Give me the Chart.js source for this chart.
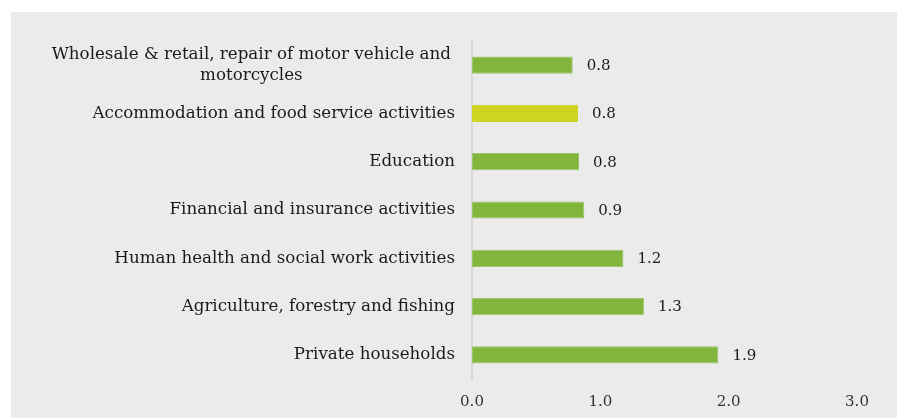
<!DOCTYPE html>
<html>
<head>
<meta charset="utf-8">
<script src="https://cdn.jsdelivr.net/npm/chart.js@4/dist/chart.umd.min.js"></script>
<style>
  html, body { margin: 0; padding: 0; background: #fff; }
  #panel { position: absolute; left: 11px; top: 12px; width: 886px; height: 406px; background: #ebebeb; }
  #chart { display: block; }
</style>
</head>
<body>
<div id="panel"><canvas id="chart" width="886" height="406"></canvas></div>
<script>
// ── Data ──────────────────────────────────────────────────────────────────────
const sectors = [
  ['Wholesale & retail, repair of motor vehicle and', 'motorcycles'],
  'Accommodation and food service activities',
  'Education',
  'Financial and insurance activities',
  'Human health and social work activities',
  'Agriculture, forestry and fishing',
  'Private households',
];
const values = [0.785, 0.826, 0.834, 0.875, 1.18, 1.34, 1.92];
const highlighted = [false, true, false, false, false, false, false];
const xTicks = [0, 1, 2, 3];

const GREEN = '#82b53c';
const GREEN_EDGE = '#9cc66a';
const LIME = '#cdd421';
const SERIF = '"DejaVu Serif", Georgia, serif';

// category labels on the left, drawn by hand so the wrapped one can be centred
const categoryLabels = {
  id: 'categoryLabels',
  afterDraw(chart) {
    const { ctx, scales: { x, y } } = chart;
    const right = x.left - 17;
    const lh = 21;
    ctx.save();
    ctx.font = `16.7px ${SERIF}`;
    ctx.fillStyle = '#1a1a1a';
    ctx.textBaseline = 'middle';
    sectors.forEach((label, i) => {
      const cy = y.getPixelForValue(i);
      const lines = Array.isArray(label) ? label : [label];
      const widest = Math.max(...lines.map(l => ctx.measureText(l).width));
      const top = cy - (lines.length - 1) * lh / 2;
      lines.forEach((line, j) => {
        if (lines.length > 1) {
          ctx.textAlign = 'center';
          ctx.fillText(line, right - 4 - widest / 2, top + j * lh);
        } else {
          ctx.textAlign = 'right';
          ctx.fillText(line, right, top + j * lh);
        }
      });
    });
    ctx.restore();
  }
};

// value labels just past the end of each bar
const valueLabels = {
  id: 'valueLabels',
  afterDatasetsDraw(chart) {
    const { ctx } = chart;
    const meta = chart.getDatasetMeta(0);
    ctx.save();
    ctx.font = `15px ${SERIF}`;
    ctx.fillStyle = '#1a1a1a';
    ctx.textAlign = 'left';
    ctx.textBaseline = 'middle';
    meta.data.forEach((bar, i) => {
      ctx.fillText(values[i].toFixed(1), bar.x + 14, bar.y + 1);
    });
    ctx.restore();
  }
};

new Chart(document.getElementById('chart'), {
  type: 'bar',
  data: {
    labels: sectors.map(s => Array.isArray(s) ? s.join(' ') : s),
    datasets: [{
      data: values,
      backgroundColor: highlighted.map(h => h ? LIME : GREEN),
      borderColor: highlighted.map(h => h ? LIME : GREEN_EDGE),
      borderWidth: 1,
      borderSkipped: false,
      categoryPercentage: 1,
      barPercentage: 0.357,
    }]
  },
  options: {
    indexAxis: 'y',
    responsive: false,
    animation: false,
    layout: { padding: { left: 461, right: 40, top: 29, bottom: 0 } },
    plugins: { legend: { display: false }, tooltip: { enabled: false } },
    scales: {
      x: {
        min: 0, max: 3,
        afterBuildTicks: scale => { scale.ticks = xTicks.map(v => ({ value: v })); },
        afterFit: scale => { scale.height = 39; },
        grid: { display: false, drawTicks: false },
        border: { display: false },
        ticks: {
          padding: 14,
          color: '#333',
          font: { family: SERIF, size: 15 },
          callback: v => Number(v).toFixed(1),
        },
      },
      y: {
        grid: { display: false },
        border: { display: true, color: '#d9d9d9', width: 2 },
        ticks: { display: false },
        afterFit: scale => { scale.width = 0; },
      },
    },
  },
  plugins: [categoryLabels, valueLabels],
});
</script>
</body>
</html>
